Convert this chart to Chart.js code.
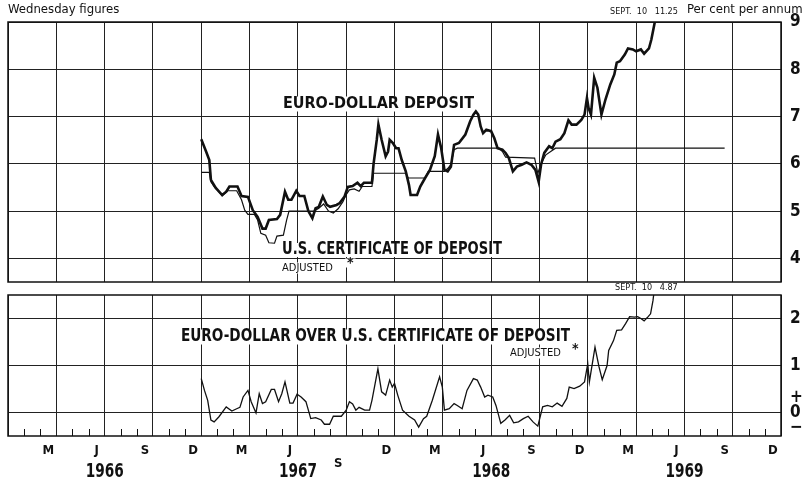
<!DOCTYPE html>
<html lang="en">
<head>
<meta charset="UTF-8">
<title>Euro-dollar deposit and U.S. certificate of deposit rates</title>
<script src="https://cdn.jsdelivr.net/npm/chart.js"></script>
<style>
  body { margin: 0; background: #fff; }
  .wrap { position: relative; width: 811px; height: 482px; }
  canvas { position: absolute; left: 0; top: 0; }
</style>
</head>
<body>
<div class="wrap">
  <canvas id="topChart" width="811" height="482"></canvas>
  <canvas id="bottomChart" width="811" height="482"></canvas>
</div>
<script>
// x values are months counted from 1 Jan 1966 (0) to 1 Jan 1970 (48)
const euroMonths = [12.0, 12.3, 12.5, 12.6, 12.9, 13.3, 13.55, 13.75, 14.25, 14.5, 14.9, 15.2, 15.5, 15.8, 16.0, 16.2, 16.7, 16.9, 17.2, 17.4, 17.6, 17.9, 18.1, 18.4, 18.65, 18.9, 19.1, 19.3, 19.55, 19.8, 20.0, 20.4, 20.6, 20.9, 21.1, 21.4, 21.7, 21.9, 22.1, 22.6, 22.7, 22.9, 23.0, 23.2, 23.45, 23.6, 23.7, 23.9, 24.1, 24.25, 24.45, 24.7, 24.9, 25.0, 25.4, 25.6, 25.9, 26.2, 26.5, 26.7, 26.9, 27.1, 27.3, 27.5, 27.7, 28.0, 28.4, 28.7, 28.9, 29.05, 29.2, 29.35, 29.5, 29.7, 30.0, 30.2, 30.4, 30.7, 30.9, 31.1, 31.35, 31.6, 31.9, 32.2, 32.5, 32.75, 32.95, 33.1, 33.3, 33.6, 33.8, 34.0, 34.3, 34.55, 34.8, 35.0, 35.3, 35.6, 35.8, 35.95, 36.05, 36.2, 36.4, 36.6, 36.85, 37.1, 37.4, 37.65, 37.8, 38.0, 38.3, 38.5, 38.8, 39.0, 39.3, 39.5, 39.8, 39.95, 40.2, 40.3];
const euroRates = [6.52, 6.26, 6.08, 5.66, 5.49, 5.34, 5.41, 5.52, 5.52, 5.32, 5.30, 5.02, 4.88, 4.63, 4.63, 4.81, 4.83, 4.92, 5.41, 5.24, 5.24, 5.43, 5.32, 5.32, 5.00, 4.85, 5.06, 5.09, 5.31, 5.13, 5.09, 5.13, 5.17, 5.31, 5.51, 5.53, 5.60, 5.53, 5.60, 5.60, 6.00, 6.51, 6.83, 6.51, 6.16, 6.26, 6.51, 6.44, 6.33, 6.33, 6.08, 5.84, 5.55, 5.34, 5.34, 5.52, 5.70, 5.87, 6.16, 6.62, 6.33, 5.87, 5.84, 5.94, 6.40, 6.44, 6.62, 6.90, 7.04, 7.11, 7.04, 6.79, 6.65, 6.72, 6.69, 6.54, 6.33, 6.30, 6.23, 6.12, 5.84, 5.94, 5.98, 6.03, 5.98, 5.87, 5.62, 5.98, 6.23, 6.37, 6.33, 6.47, 6.52, 6.65, 6.92, 6.83, 6.83, 6.93, 7.04, 7.39, 7.18, 7.04, 7.82, 7.61, 7.04, 7.36, 7.68, 7.89, 8.14, 8.17, 8.31, 8.44, 8.42, 8.38, 8.42, 8.33, 8.44, 8.63, 9.06, 9.5];

const cdMonths = [12.0, 12.5, 12.6, 12.8, 13.0, 13.3, 13.65, 14.2, 14.5, 14.7, 14.9, 15.3, 15.5, 15.7, 16.0, 16.2, 16.55, 16.7, 17.1, 17.3, 17.45, 19.0, 19.3, 19.6, 19.9, 20.2, 20.5, 20.8, 21.0, 21.2, 21.5, 21.8, 22.0, 22.6, 22.7, 24.7, 24.85, 25.9, 26.1, 27.1, 27.3, 27.5, 27.7, 27.9, 30.5, 30.7, 30.9, 32.7, 32.9, 33.1, 33.4, 33.7, 34.0, 44.5];
const cdRates = [5.82, 5.82, 5.62, 5.52, 5.45, 5.32, 5.43, 5.43, 5.24, 5.02, 4.93, 4.93, 4.81, 4.53, 4.49, 4.33, 4.32, 4.47, 4.49, 4.81, 5.00, 5.00, 5.06, 5.15, 5.00, 4.96, 5.05, 5.20, 5.35, 5.45, 5.47, 5.42, 5.52, 5.52, 5.80, 5.80, 5.70, 5.70, 5.84, 5.84, 5.90, 5.98, 6.30, 6.33, 6.33, 6.26, 6.14, 6.12, 5.80, 6.00, 6.19, 6.26, 6.33, 6.33];

const spreadMonths = [12.0, 12.2, 12.4, 12.6, 12.8, 13.1, 13.55, 13.9, 14.2, 14.4, 14.6, 14.9, 15.1, 15.4, 15.6, 15.8, 16.0, 16.35, 16.55, 16.8, 17.0, 17.2, 17.5, 17.7, 17.95, 18.2, 18.5, 18.8, 19.1, 19.45, 19.65, 19.97, 20.2, 20.7, 21.0, 21.2, 21.4, 21.6, 21.8, 22.15, 22.45, 22.6, 22.97, 23.2, 23.45, 23.7, 23.86, 24.0, 24.2, 24.5, 24.9, 25.25, 25.5, 25.8, 26.0, 26.35, 26.8, 26.97, 27.1, 27.4, 27.7, 27.9, 28.2, 28.5, 28.9, 29.14, 29.35, 29.6, 29.8, 30.1, 30.3, 30.6, 30.86, 31.15, 31.4, 31.7, 32.0, 32.3, 32.6, 32.9, 33.2, 33.5, 33.8, 34.1, 34.4, 34.7, 34.85, 35.15, 35.5, 35.8, 36.0, 36.1, 36.45, 36.7, 36.9, 37.2, 37.3, 37.6, 37.8, 38.1, 38.35, 38.6, 38.9, 39.1, 39.3, 39.5, 39.7, 39.9, 40.05, 40.2];
const spreadValues = [0.72, 0.47, 0.26, -0.16, -0.20, -0.09, 0.12, 0.03, 0.08, 0.11, 0.33, 0.47, 0.23, -0.01, 0.40, 0.19, 0.23, 0.49, 0.49, 0.23, 0.40, 0.65, 0.20, 0.20, 0.39, 0.33, 0.23, -0.13, -0.11, -0.16, -0.25, -0.25, -0.08, -0.08, 0.05, 0.23, 0.18, 0.05, 0.11, 0.05, 0.05, 0.26, 0.93, 0.44, 0.37, 0.69, 0.54, 0.62, 0.37, 0.05, -0.08, -0.16, -0.31, -0.13, -0.08, 0.26, 0.76, 0.54, 0.05, 0.08, 0.19, 0.15, 0.08, 0.47, 0.72, 0.69, 0.54, 0.33, 0.37, 0.33, 0.15, -0.23, -0.16, -0.06, -0.22, -0.20, -0.13, -0.08, -0.20, -0.29, 0.12, 0.15, 0.12, 0.20, 0.13, 0.30, 0.54, 0.51, 0.56, 0.65, 1.04, 0.65, 1.39, 0.97, 0.70, 1.00, 1.32, 1.53, 1.75, 1.76, 1.89, 2.04, 2.03, 2.04, 2.00, 1.95, 2.02, 2.10, 2.38, 2.8];

const monthLabels = ['M', 'J', 'S', 'D'];
const yearLabels = ['1966', '1967', '1968', '1969'];
const topTicks = [4, 5, 6, 7, 8, 9];
const bottomTicks = [0, 1, 2];

const narrow = "'Liberation Sans Narrow', 'DejaVu Sans Condensed', sans-serif";
const ink = '#111';

function pts(xs, ys) {
  return xs.map((m, i) => ({ x: m, y: ys[i] }));
}

// vertical grid lines every quarter
function quarterGrid(scale) {
  const t = [];
  for (let m = 0; m <= 48; m += 3) t.push({ value: m });
  scale.ticks = t;
}

function label(ctx, text, x, y, font, maxWidth, box, align) {
  ctx.save();
  ctx.font = font;
  ctx.textBaseline = 'middle';
  ctx.textAlign = align || 'left';
  let w = ctx.measureText(text).width;
  if (maxWidth && w > maxWidth) w = maxWidth;
  if (box) {
    const left = align === 'center' ? x - w / 2 : x;
    ctx.fillStyle = '#fff';
    ctx.fillRect(left - 2, y - box / 2, w + 4, box);
  }
  ctx.fillStyle = ink;
  if (maxWidth) ctx.fillText(text, x, y, maxWidth);
  else ctx.fillText(text, x, y);
  ctx.restore();
}

const frame = {
  id: 'frame',
  afterDraw(chart) {
    const a = chart.chartArea, ctx = chart.ctx;
    ctx.save();
    ctx.strokeStyle = ink;
    ctx.lineWidth = 1.5;
    ctx.strokeRect(a.left, a.top, a.right - a.left, a.bottom - a.top);
    ctx.restore();
  }
};

const topText = {
  id: 'topText',
  beforeDatasetsDraw(chart) {
    const ctx = chart.ctx;
    label(ctx, 'EURO-DOLLAR DEPOSIT', 283, 104, 'bold 16px ' + narrow, 192, 15);
    label(ctx, 'U.S. CERTIFICATE OF DEPOSIT', 282, 250, 'bold 17px ' + narrow, 220, 14);
    label(ctx, 'ADJUSTED', 282, 268, '11px ' + narrow, 62, 11);
    label(ctx, '*', 347, 263, 'bold 14px ' + narrow, 0, 9);
  },
  afterDraw(chart) {
    const ctx = chart.ctx;
    label(ctx, 'Wednesday figures', 8, 10, '13px ' + narrow, 114);
    label(ctx, 'Per cent per annum', 687, 10, '13px ' + narrow, 121);
    label(ctx, 'SEPT.  10   11.25', 610, 12, '9px ' + narrow, 70);
  }
};

const bottomText = {
  id: 'bottomText',
  beforeDatasetsDraw(chart) {
    const ctx = chart.ctx;
    const a = chart.chartArea;
    const x = chart.scales.x;
    // short monthly ticks along the bottom edge
    ctx.save();
    ctx.strokeStyle = ink;
    ctx.lineWidth = 1;
    for (let m = 1; m < 48; m++) {
      if (m % 3 === 0) continue;
      const px = Math.round(x.getPixelForValue(m)) + 0.5;
      ctx.beginPath();
      ctx.moveTo(px, a.bottom);
      ctx.lineTo(px, a.bottom - 7);
      ctx.stroke();
    }
    ctx.restore();
    label(ctx, 'EURO-DOLLAR OVER U.S. CERTIFICATE OF DEPOSIT', 181, 337, 'bold 17px ' + narrow, 389, 15);
    label(ctx, 'ADJUSTED', 510, 353, '11px ' + narrow, 60, 11);
    label(ctx, '*', 572, 349, 'bold 14px ' + narrow, 0, 9);
  },
  afterDraw(chart) {
    const ctx = chart.ctx;
    const x = chart.scales.x;
    label(ctx, 'SEPT.  10   4.87', 615, 288, '9px ' + narrow, 72);
    yearLabels.forEach((y, i) => {
      label(ctx, y, x.getPixelForValue(6 + 12 * i), 472, 'bold 19px ' + narrow, 38, 0, 'center');
    });
  }
};

const common = {
  responsive: false,
  animation: false,
  elements: { point: { radius: 0 }, line: { tension: 0 } },
  plugins: { legend: { display: false }, tooltip: { enabled: false } }
};

new Chart(document.getElementById('topChart'), {
  type: 'line',
  data: {
    datasets: [
      { label: 'Euro-dollar deposit', data: pts(euroMonths, euroRates), borderColor: ink, borderWidth: 2.6 },
      { label: 'U.S. certificate of deposit, adjusted', data: pts(cdMonths, cdRates), borderColor: ink, borderWidth: 1.2 }
    ]
  },
  options: Object.assign({}, common, {
    layout: { padding: { left: 8, top: 22, right: 0, bottom: 200 } },
    scales: {
      x: {
        type: 'linear', min: 0, max: 48,
        afterBuildTicks: quarterGrid,
        afterFit: s => { s.height = 0; },
        ticks: { display: false },
        grid: { color: '#222', drawTicks: false },
        border: { display: false }
      },
      y: {
        position: 'right', min: 3.5, max: 9,
        afterBuildTicks: s => { s.ticks = topTicks.map(v => ({ value: v })); },
        afterFit: s => { s.width = 30; },
        ticks: { padding: 9, color: ink, font: { family: narrow, size: 17, weight: 'bold' } },
        grid: { color: '#222', drawTicks: false },
        border: { display: false }
      }
    }
  }),
  plugins: [topText, frame]
});

new Chart(document.getElementById('bottomChart'), {
  type: 'line',
  data: {
    datasets: [
      { label: 'Euro-dollar over U.S. certificate of deposit, adjusted', data: pts(spreadMonths, spreadValues), borderColor: ink, borderWidth: 1.3 }
    ]
  },
  options: Object.assign({}, common, {
    layout: { padding: { left: 8, top: 295, right: 0, bottom: 0 } },
    scales: {
      x: {
        type: 'linear', min: 0, max: 48,
        afterBuildTicks: quarterGrid,
        afterFit: s => { s.height = 0; },
        ticks: { display: false },
        grid: { color: '#222', drawTicks: false },
        border: { display: false }
      },
      xl: {
        type: 'linear', position: 'bottom', min: 0, max: 48,
        afterBuildTicks: s => {
          const t = [];
          for (let m = 2.5; m < 48; m += 3) t.push({ value: m });
          s.ticks = t;
        },
        afterFit: s => { s.height = 46; },
        ticks: {
          autoSkip: false, maxRotation: 0, padding: 8, color: ink,
          font: { family: narrow, size: 13, weight: 'bold', lineHeight: 1 },
          callback: (v, i) => (i === 6 ? ['', monthLabels[i % 4]] : monthLabels[i % 4])
        },
        grid: { display: false, drawTicks: false },
        border: { display: false }
      },
      y: {
        position: 'right', min: -0.5, max: 2.5,
        afterBuildTicks: s => { s.ticks = bottomTicks.map(v => ({ value: v })); },
        afterFit: s => { s.width = 30; },
        ticks: {
          padding: 9, color: ink,
          font: { family: narrow, size: 17, weight: 'bold', lineHeight: 0.9 },
          callback: v => (v === 0 ? ['+', '0', '\u2212'] : String(v))
        },
        grid: { color: '#222', drawTicks: false },
        border: { display: false }
      }
    }
  }),
  plugins: [bottomText, frame]
});
</script>
</body>
</html>
